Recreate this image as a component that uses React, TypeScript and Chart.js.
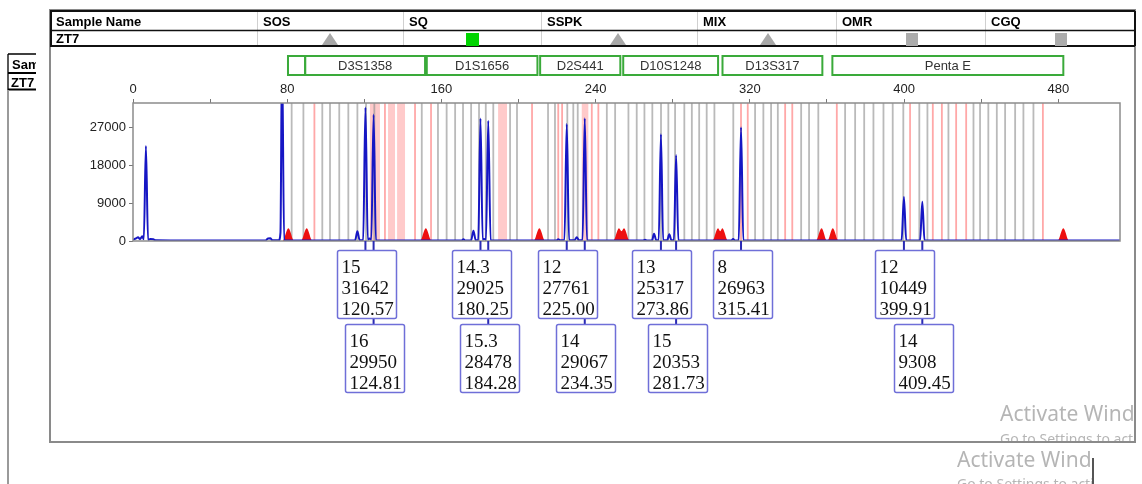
import React, { useEffect, useRef } from "react";
import { Chart, registerables } from "chart.js";

Chart.register(...registerables);

// ---------------- data ----------------
const headerLabels = ["Sample Name", "SOS", "SQ", "SSPK", "MIX", "OMR", "CGQ"];
const sampleId = "ZT7";
const qualityIcons = ["", "triangle", "greenSquare", "triangle", "triangle", "square", "square"];

const xTickLabels = [0, 80, 160, 240, 320, 400, 480];
const xTickMarks = [0, 40, 80, 120, 160, 200, 240, 280, 320, 360, 400, 440, 480];
const yTickValues = [0, 9000, 18000, 27000];

const locusNames = ["", "D3S1358", "D1S1656", "D2S441", "D10S1248", "D13S317", "Penta E"];
const locusStart = [80.4, 89.3, 152.4, 211.2, 254.3, 305.8, 362.8];
const locusEnd = [89.3, 151.5, 209.8, 252.8, 303.5, 357.6, 482.6];

const alleleCalls = ["15", "16", "14.3", "15.3", "12", "14", "13", "15", "8", "12", "14"];
const alleleHeights = [31642, 29950, 29025, 28478, 27761, 29067, 25317, 20353, 26963, 10449, 9308];
const alleleSizes = [120.57, 124.81, 180.25, 184.28, 225.0, 234.35, 273.86, 281.73, 315.41, 399.91, 409.45];
const alleleRows = [0, 1, 0, 1, 0, 1, 0, 1, 0, 0, 1];

// blue dye trace: [size (bp), RFU]
const trace: [number, number][] = [
  [0, 300], [1.5, 600], [2.6, 900], [3.6, 450], [4.8, 1100], [5.6, 400], [6.7, 22500], [7.8, 300],
  [9, 500], [10.5, 400], [12, 150], [30, 100], [60, 100],
  [68.8, 120], [70, 600], [71.2, 650], [72.4, 150], [75.6, 150], [76.5, 2000], [77.3, 45000], [78.4, 100],
  [100, 100], [115.2, 120], [116.4, 2300], [117.6, 150], [119.4, 200], [120.57, 31642], [121.8, 300],
  [122.7, 600], [123.6, 300], [124.81, 29950], [126.0, 150],
  [150, 100], [170.4, 100], [171.4, 400], [172.4, 100], [175.4, 150], [176.6, 2400], [177.8, 150],
  [179.1, 200], [180.25, 29025], [181.4, 300], [182.2, 500], [183.1, 300], [184.28, 28478], [185.5, 150],
  [200, 100], [219.6, 100], [220.6, 400], [221.6, 150], [223.8, 150], [225.0, 27761], [226.2, 200],
  [229.1, 200], [230.2, 900], [231.3, 200], [233.2, 200], [234.35, 29067], [235.5, 150],
  [250, 100], [264.6, 100], [265.6, 300], [266.6, 100], [269.2, 100], [270.3, 1700], [271.4, 200],
  [272.7, 200], [273.86, 25317], [275.0, 200], [277.1, 200], [278.2, 1600], [279.3, 200],
  [280.6, 200], [281.73, 20353], [282.9, 150],
  [300, 100], [310.3, 100], [311.3, 500], [312.3, 100], [314.2, 150], [315.41, 26963], [316.6, 150],
  [350, 100], [398.7, 100], [399.91, 10449], [401.1, 100], [408.3, 100], [409.45, 9308], [410.6, 100],
  [450, 100], [512, 100],
];

// red size-standard / locus-boundary humps: [size (bp), RFU]
const markerTrace: [number, number][] = [
  [0, 0], [77.6, 0], [80.6, 3000], [83.6, 0], [87.1, 0], [90.1, 3000], [93.1, 0],
  [148.9, 0], [151.9, 3000], [154.9, 0], [207.8, 0], [210.8, 3000], [213.8, 0],
  [249.1, 0], [252.1, 3000], [253.4, 2300], [254.7, 3000], [257.7, 0],
  [300.5, 0], [303.5, 3000], [304.6, 2300], [305.7, 3000], [308.7, 0],
  [354.2, 0], [357.2, 3000], [360.0, 0], [360.2, 0], [363.0, 3000], [366.0, 0],
  [479.6, 0], [482.6, 3000], [485.6, 0], [512, 0],
];

// allele bins (bp)
const grayBins = [
  82.3, 88.4, 98.2, 102.2, 107, 111.7, 116.4, 120.9, 125.2, 149.8, 158.2, 162.7, 167.1, 171.2, 175.4,
  179.5, 183, 186.9, 195.6, 199.2, 215.3, 218.9, 225.3, 228.4, 230.7, 245.8, 250.1, 257, 261.3, 265.3,
  269.4, 273.9, 277.7, 281.2, 286, 289.9, 293.7, 297.6, 301.6, 311.4, 322.7, 327, 331, 334.5, 346.6,
  350.7, 355.5, 369.4, 374.6, 379.3, 384.1, 389.3, 394.1, 399.6, 407.9, 412.1, 423, 436, 439.4, 443.7,
  448.1, 452.4, 457.6, 461.9, 467.1,
];
const pinkBins = [
  94.1, 130.7, 146.3, 154.6, 207, 220.6, 222.6, 238, 241.4, 315.4, 318.9, 338.3, 342, 365.1, 403.1,
  414.9, 419.6, 427, 432.2, 472,
];
const pinkBands: [number, number][] = [
  [122.9, 128.1], [132.3, 135.9], [137, 141.1], [189.4, 194], [232.8, 236.2],
];

const watermarkTitle = "Activate Windows";
const watermarkHint = "Go to Settings to activate Windows.";

// ---------------- layout ----------------
const W = 1142;
const H = 484;
const FRAME = { l: 50, t: 10, r: 1135, b: 442 };
const colX = [50, 257, 403, 541, 697, 836, 985];
const iconX = [0, 330, 472, 618, 768, 912, 1061];
const SANS = '"Liberation Sans", Arial, sans-serif';
const SERIF = '"Liberation Serif", "Times New Roman", serif';
const WM = '"Noto Sans", sans-serif';

const decor = {
  id: "decor",
  beforeDraw(chart: any) {
    const ctx: CanvasRenderingContext2D = chart.ctx;
    const xs = chart.scales.x;
    ctx.save();
    ctx.fillStyle = "#ffffff";
    ctx.fillRect(0, 0, W, H);

    // left partial table (clipped)
    ctx.save();
    ctx.beginPath();
    ctx.rect(0, 0, 36, H);
    ctx.clip();
    ctx.fillStyle = "#000";
    ctx.font = `bold 13px ${SANS}`;
    ctx.textBaseline = "alphabetic";
    ctx.fillText(headerLabels[0], 12, 69);
    ctx.fillText(sampleId, 11, 87);
    ctx.strokeStyle = "#000";
    ctx.lineWidth = 1.3;
    ctx.beginPath();
    ctx.moveTo(8, 54); ctx.lineTo(40, 54);
    ctx.moveTo(8, 54); ctx.lineTo(8, 90);
    ctx.stroke();
    ctx.lineWidth = 2;
    ctx.beginPath();
    ctx.moveTo(8, 73); ctx.lineTo(40, 73);
    ctx.moveTo(8, 89.5); ctx.lineTo(40, 89.5);
    ctx.stroke();
    ctx.restore();
    ctx.strokeStyle = "#9a9a9a";
    ctx.lineWidth = 2;
    ctx.beginPath();
    ctx.moveTo(8, 90); ctx.lineTo(8, H);
    ctx.stroke();

    // frame
    ctx.fillStyle = "#fff";
    ctx.fillRect(FRAME.l, FRAME.t, FRAME.r - FRAME.l, FRAME.b - FRAME.t);
    ctx.strokeStyle = "#8a8a8a";
    ctx.lineWidth = 2;
    ctx.strokeRect(FRAME.l, FRAME.t, FRAME.r - FRAME.l, FRAME.b - FRAME.t);

    // header table
    ctx.strokeStyle = "#d0d0d0";
    ctx.lineWidth = 1;
    ctx.beginPath();
    for (let i = 1; i < colX.length; i++) {
      ctx.moveTo(colX[i] + 0.5, 12);
      ctx.lineTo(colX[i] + 0.5, 46);
    }
    ctx.stroke();
    ctx.strokeStyle = "#111";
    ctx.lineWidth = 2;
    ctx.beginPath();
    ctx.moveTo(FRAME.l, 11); ctx.lineTo(FRAME.r, 11);
    ctx.moveTo(FRAME.l, 46); ctx.lineTo(FRAME.r, 46);
    ctx.moveTo(FRAME.l + 1, 11); ctx.lineTo(FRAME.l + 1, 46);
    ctx.moveTo(FRAME.r, 11); ctx.lineTo(FRAME.r, 46);
    ctx.stroke();
    ctx.lineWidth = 1.3;
    ctx.beginPath();
    ctx.moveTo(FRAME.l, 30.5); ctx.lineTo(FRAME.r, 30.5);
    ctx.stroke();

    ctx.fillStyle = "#000";
    ctx.font = `bold 13px ${SANS}`;
    headerLabels.forEach((lab, i) => ctx.fillText(lab, colX[i] + 6, 26));
    ctx.fillText(sampleId, 56, 43);

    qualityIcons.forEach((kind, i) => {
      const cx = iconX[i];
      if (kind === "triangle") {
        ctx.fillStyle = "#a8a8a8";
        ctx.beginPath();
        ctx.moveTo(cx - 8, 45);
        ctx.lineTo(cx + 8, 45);
        ctx.lineTo(cx, 33);
        ctx.closePath();
        ctx.fill();
      } else if (kind === "greenSquare") {
        ctx.fillStyle = "#00d400";
        ctx.fillRect(cx - 6, 33, 13, 13);
      } else if (kind === "square") {
        ctx.fillStyle = "#ababab";
        ctx.fillRect(cx - 6, 33, 12, 13);
      }
    });

    // locus boxes
    ctx.strokeStyle = "#3aaa3a";
    ctx.lineWidth = 2;
    ctx.font = `13px ${SANS}`;
    ctx.textAlign = "center";
    ctx.textBaseline = "middle";
    locusNames.forEach((name, i) => {
      const a = xs.getPixelForValue(locusStart[i]);
      const b = xs.getPixelForValue(locusEnd[i]);
      ctx.strokeRect(a, 56, b - a, 19);
      ctx.fillStyle = "#333";
      if (name) ctx.fillText(name, (a + b) / 2, 66);
    });
    ctx.restore();
  },
  beforeDatasetsDraw(chart: any) {
    const ctx: CanvasRenderingContext2D = chart.ctx;
    const xs = chart.scales.x;
    const { left, right, top, bottom } = chart.chartArea;
    ctx.save();
    ctx.beginPath();
    ctx.rect(left, top, right - left, bottom - top);
    ctx.clip();
    ctx.fillStyle = "rgba(255,150,150,0.5)";
    pinkBands.forEach(([a, b]) => {
      const pa = xs.getPixelForValue(a);
      const pb = xs.getPixelForValue(b);
      ctx.fillRect(pa, top, pb - pa, bottom - top);
    });
    ctx.lineWidth = 1.8;
    ctx.strokeStyle = "rgba(140,140,140,0.6)";
    ctx.beginPath();
    grayBins.forEach((v) => {
      const p = xs.getPixelForValue(v);
      ctx.moveTo(p, top);
      ctx.lineTo(p, bottom);
    });
    ctx.stroke();
    ctx.strokeStyle = "rgba(255,110,110,0.6)";
    ctx.beginPath();
    pinkBins.forEach((v) => {
      const p = xs.getPixelForValue(v);
      ctx.moveTo(p, top);
      ctx.lineTo(p, bottom);
    });
    ctx.stroke();
    ctx.restore();
  },
  afterDatasetsDraw(chart: any) {
    const ctx: CanvasRenderingContext2D = chart.ctx;
    const xs = chart.scales.x;
    const { left, right, top, bottom } = chart.chartArea;
    ctx.save();
    ctx.strokeStyle = "#8c8c8c";
    ctx.lineWidth = 1.5;
    ctx.strokeRect(left, top, right - left, bottom - top);

    // allele call labels
    const rowTop = [250, 324];
    const bw = 59;
    const bh = 68;
    ctx.strokeStyle = "#2a2ab4";
    ctx.lineWidth = 2;
    ctx.beginPath();
    alleleSizes.forEach((s, i) => {
      const px = xs.getPixelForValue(s);
      ctx.moveTo(px, bottom);
      ctx.lineTo(px, rowTop[alleleRows[i]]);
    });
    ctx.stroke();
    alleleSizes.forEach((s, i) => {
      const px = xs.getPixelForValue(s);
      const bx = Math.round(px + 1 - bw / 2) + 0.5;
      const by = rowTop[alleleRows[i]] + 0.5;
      ctx.fillStyle = "#fff";
      ctx.strokeStyle = "#6f6fd8";
      ctx.lineWidth = 1.5;
      ctx.beginPath();
      ctx.roundRect(bx, by, bw, bh, 2);
      ctx.fill();
      ctx.stroke();
      ctx.fillStyle = "#111";
      ctx.font = `19px ${SERIF}`;
      ctx.textAlign = "left";
      ctx.textBaseline = "alphabetic";
      ctx.fillText(alleleCalls[i], bx + 4, by + 22);
      ctx.fillText(String(alleleHeights[i]), bx + 4, by + 43);
      ctx.fillText(alleleSizes[i].toFixed(2), bx + 4, by + 64);
    });
    ctx.restore();
  },
  afterDraw(chart: any) {
    const ctx: CanvasRenderingContext2D = chart.ctx;
    ctx.save();
    ctx.fillStyle = "rgba(150,150,150,0.7)";
    ctx.textAlign = "left";
    ctx.textBaseline = "alphabetic";
    // first watermark (inside the frame)
    ctx.save();
    ctx.beginPath();
    ctx.rect(0, 0, FRAME.r - 1, FRAME.b - 1);
    ctx.clip();
    ctx.font = `21px ${WM}`;
    ctx.fillText(watermarkTitle, 1000, 421);
    ctx.font = `14px ${WM}`;
    ctx.fillText(watermarkHint, 1000, 444);
    ctx.restore();
    // second watermark (below the frame)
    ctx.save();
    ctx.beginPath();
    ctx.rect(0, FRAME.b + 2, 1092, H - FRAME.b - 2);
    ctx.clip();
    ctx.font = `21px ${WM}`;
    ctx.fillText(watermarkTitle, 957, 467);
    ctx.font = `14px ${WM}`;
    ctx.fillText(watermarkHint, 957, 489);
    ctx.restore();
    ctx.strokeStyle = "#555";
    ctx.lineWidth = 2;
    ctx.beginPath();
    ctx.moveTo(1093, 458);
    ctx.lineTo(1093, H);
    ctx.stroke();
    ctx.restore();
  },
};

export default function App() {
  const ref = useRef<HTMLCanvasElement>(null);
  useEffect(() => {
    const canvas = ref.current!;
    const chart = new Chart(canvas, {
      type: "line",
      data: {
        datasets: [
          {
            label: "Blue dye",
            data: trace.map(([x, y]) => ({ x, y })),
            borderColor: "#1616c4",
            borderWidth: 2,
            pointRadius: 0,
            cubicInterpolationMode: "monotone",
            fill: false,
          },
          {
            label: "Markers",
            data: markerTrace.map(([x, y]) => ({ x, y })),
            borderColor: "rgba(0,0,0,0)",
            borderWidth: 0,
            backgroundColor: "#ee1010",
            pointRadius: 0,
            cubicInterpolationMode: "monotone",
            fill: "origin",
          },
        ],
      } as any,
      options: {
        responsive: false,
        animation: false,
        devicePixelRatio: 1,
        events: [],
        layout: { padding: { left: 73, top: 81, right: 22, bottom: 243 } },
        plugins: { legend: { display: false }, tooltip: { enabled: false } },
        scales: {
          x: {
            type: "linear",
            position: "top",
            min: 0,
            max: 512,
            afterFit: (s: any) => {
              s.height = 22;
            },
            afterBuildTicks: (s: any) => {
              s.ticks = xTickMarks.map((v) => ({ value: v }));
            },
            grid: { drawOnChartArea: false, drawTicks: true, tickLength: 4, color: "#777" },
            border: { display: false },
            ticks: {
              autoSkip: false,
              maxRotation: 0,
              padding: 2,
              color: "#222",
              font: { family: SANS, size: 13 },
              callback: (v: any) => (xTickLabels.includes(Number(v)) ? String(v) : ""),
            },
          },
          y: {
            type: "linear",
            min: 0,
            max: 32700,
            afterFit: (s: any) => {
              s.width = 60;
            },
            afterBuildTicks: (s: any) => {
              s.ticks = yTickValues.map((v) => ({ value: v }));
            },
            grid: { drawOnChartArea: false, drawTicks: true, tickLength: 4, color: "#777" },
            border: { display: false },
            ticks: {
              padding: 3,
              color: "#222",
              font: { family: SANS, size: 13 },
              callback: (v: any) => String(v),
            },
          },
        },
      } as any,
      plugins: [decor],
    });
    return () => chart.destroy();
  }, []);
  return (
    <div style={{ position: "absolute", left: 0, top: 0, width: W, height: H }}>
      <canvas ref={ref} width={W} height={H} style={{ display: "block" }} />
    </div>
  );
}
